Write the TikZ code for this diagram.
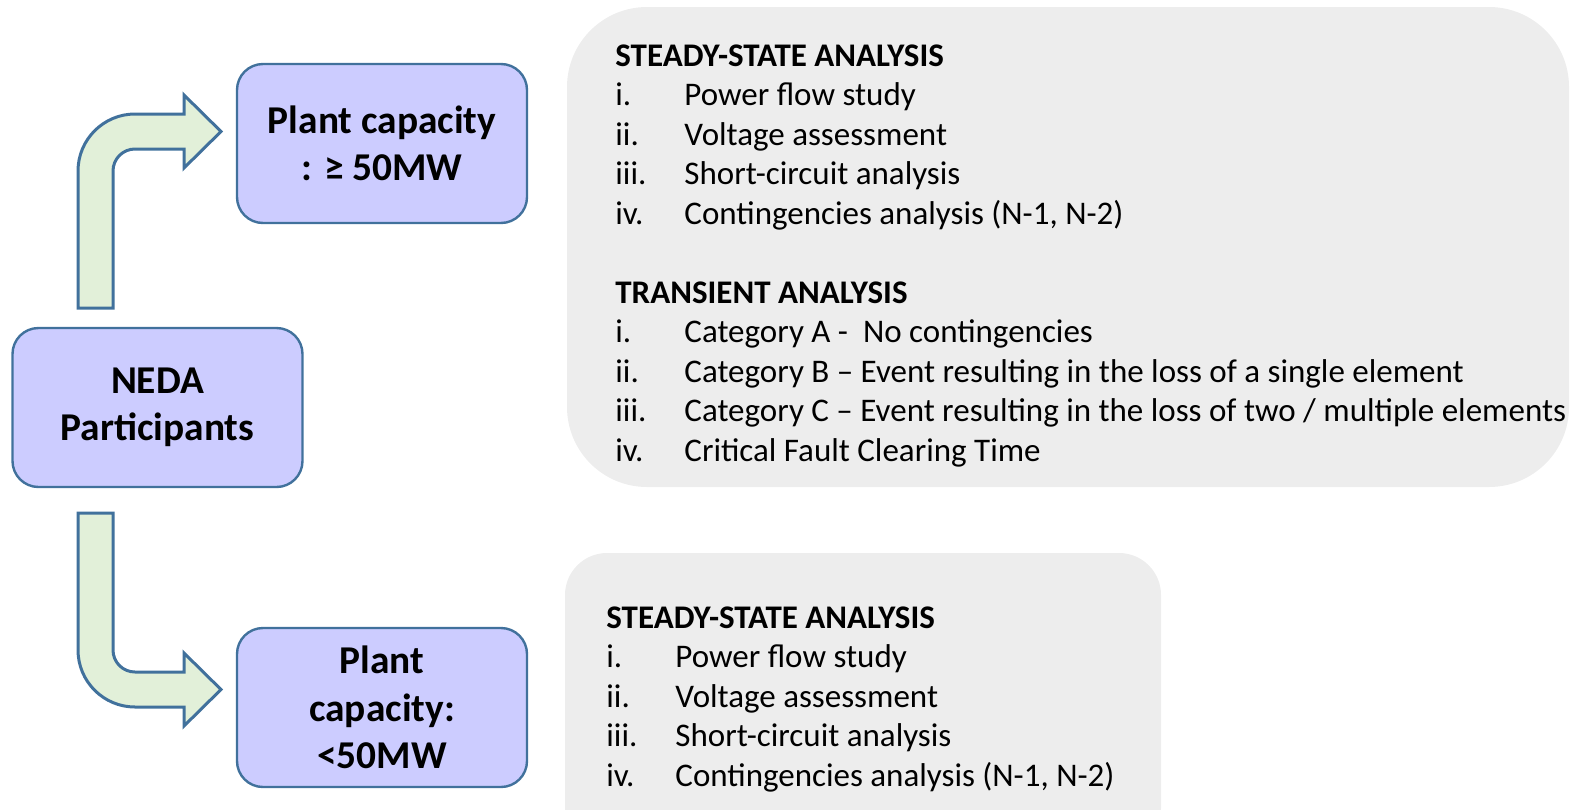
\documentclass[tikz,border=0pt]{standalone}
\usepackage{fontspec}
\setmainfont{Carlito}
\usetikzlibrary{positioning}
\definecolor{boxfill}{HTML}{CCCCFF}
\definecolor{boxline}{HTML}{41719C}
\definecolor{arrowfill}{HTML}{E2F0D9}
\definecolor{panelfill}{HTML}{EDEDED}

\begin{document}
\begin{tikzpicture}[x=0.5pt,y=0.5pt,
  capbox/.style={
    rectangle,
    rounded corners=13pt,
    draw=boxline,
    line width=1.2pt,
    fill=boxfill,
    minimum width=145pt,
    minimum height=79.5pt,
    inner sep=0pt,
    align=center,
    font=\fontsize{19.7}{23.7}\selectfont\bfseries},
  panelbox/.style n args={3}{
    rectangle,
    rounded corners=#3,
    fill=panelfill,
    minimum width=#1,
    minimum height=#2,
    inner sep=0pt},
  bentarrow/.style={
    draw=boxline,
    line width=1.5pt,
    fill=arrowfill},
  itemrow/.style={
    anchor=base west,
    inner sep=0pt,
    font=\fontsize{16.5}{19.8}\selectfont},
  itemhead/.style={
    itemrow,
    font=\fontsize{16.5}{19.8}\selectfont\bfseries},
]

  \def\rowh{39.5}%
  \def\topbase{66}%
  \def\lowbase{628}%

  \useasboundingbox (0,0) rectangle (1578,-809);

    % Grey panels
  \node[panelbox={501pt}{240pt}{40pt}] (studybig) at (1068,-247) {};
  \node[panelbox={298pt}{148.5pt}{21pt}] (studysmall) at (863,-701.5) {};

    % Capacity boxes
  \node[capbox] (neda) at (157.5,-407.5) {NEDA\\Participants};
  \node[capbox] (capbig) at (382,-143.5) {Plant capacity\\: ≥ 50MW};
  \node[capbox] (capsmall) at (382,-707.5) {Plant\\capacity:\\<50MW};

    % Bent arrows
  \draw[bentarrow] (78,-308) -- (78,-171) arc[start angle=180,end angle=90,radius=57]
    -- (184,-114) -- (184,-95) -- (221,-131.5) -- (184,-168) -- (184,-149)
    -- (135,-149) arc[start angle=90,end angle=180,radius=22] -- (113,-308) -- cycle;
  \draw[bentarrow] (78,-513) -- (78,-650) arc[start angle=180,end angle=270,radius=57]
    -- (184,-707) -- (184,-726) -- (221,-689.5) -- (184,-653) -- (184,-672)
    -- (135,-672) arc[start angle=270,end angle=180,radius=22] -- (113,-513) -- cycle;

    % Studies for large plants
  \node[itemhead] (sshead) at (615,-\topbase) {STEADY-STATE ANALYSIS};
  \foreach \k/\num/\txt in {1/i./Power flow study,
                            2/ii./Voltage assessment,
                            3/iii./Short-circuit analysis,
                            4/iv./{Contingencies analysis (N-1, N-2)}} {
    \node[itemrow] (ssnum\k) at (615,-\topbase-\k*\rowh) {\num};
    \node[itemrow] (sstxt\k) at (684,-\topbase-\k*\rowh) {\txt};
  }
  \node[itemhead] (trhead) at (615,-\topbase-6*\rowh) {TRANSIENT ANALYSIS};
  \foreach \k/\num/\txt in {7/i./{Category A -\ \ No contingencies},
                            8/ii./{Category B – Event resulting in the loss of a single element},
                            9/iii./{Category C – Event resulting in the loss of two / multiple elements},
                            10/iv./{Critical Fault Clearing Time}} {
    \node[itemrow] (trnum\k) at (615,-\topbase-\k*\rowh) {\num};
    \node[itemrow] (trtxt\k) at (684,-\topbase-\k*\rowh) {\txt};
  }

    % Studies for small plants
  \node[itemhead] (lowhead) at (606,-\lowbase) {STEADY-STATE ANALYSIS};
  \foreach \k/\num/\txt in {1/i./Power flow study,
                            2/ii./Voltage assessment,
                            3/iii./Short-circuit analysis,
                            4/iv./{Contingencies analysis (N-1, N-2)}} {
    \node[itemrow] (lownum\k) at (606,-\lowbase-\k*\rowh) {\num};
    \node[itemrow] (lowtxt\k) at (675,-\lowbase-\k*\rowh) {\txt};
  }

\end{tikzpicture}
\end{document}
